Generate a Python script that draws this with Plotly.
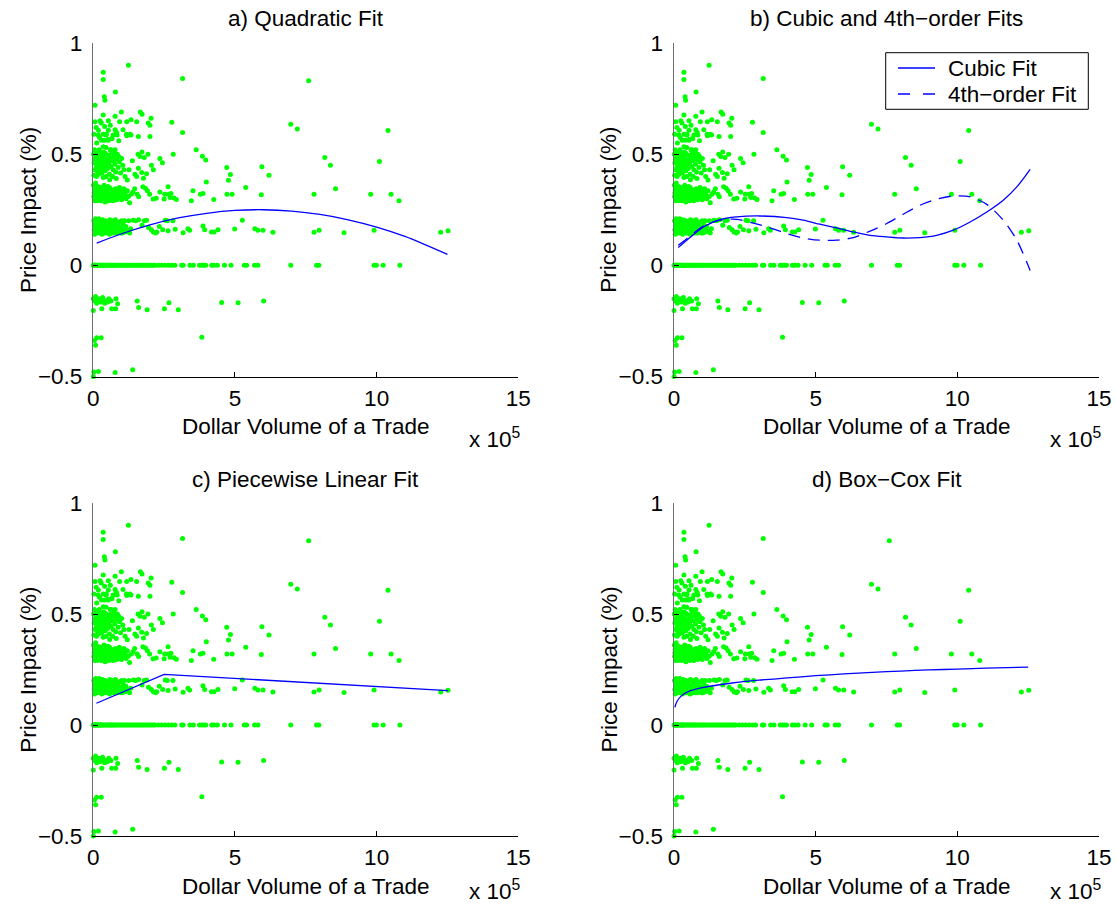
import plotly.graph_objects as go

# ---------------- data (volume in units of 1e5 dollars, impact in %) ----------------
zero_band_volume = [0.00, 0.02, 0.04, 0.06, 0.08, 0.10, 0.12, 0.15, 0.18, 0.21, 0.24, 0.27, 0.30,
                    0.33, 0.36, 0.40, 0.44, 0.48, 0.52, 0.56, 0.60, 0.64, 0.68, 0.72, 0.76, 0.80,
                    0.85, 0.90, 0.95, 1.00, 1.05, 1.10, 1.16, 1.22, 1.28, 1.34, 1.40, 1.46, 1.52,
                    1.58, 1.64, 1.70, 1.76, 1.82, 1.88, 1.94, 2.00, 2.06, 2.12, 2.18, 2.30, 2.41,
                    2.53, 2.65, 2.77, 2.88, 3.12, 3.17, 3.41, 3.53, 3.75, 3.83, 3.90, 3.97, 4.18,
                    4.26, 4.38, 4.63, 4.86, 5.33, 5.41, 5.69, 5.81, 6.97, 7.88, 7.96, 9.91, 9.99,
                    10.23, 10.82]

band_016 = [(0.02, 0.20), (0.03, 0.16), (0.05, 0.18), (0.06, 0.15), (0.08, 0.21), (0.09, 0.17),
            (0.10, 0.19), (0.12, 0.155), (0.13, 0.20), (0.15, 0.165), (0.16, 0.145), (0.18, 0.185),
            (0.20, 0.21), (0.21, 0.16), (0.23, 0.175), (0.25, 0.15), (0.27, 0.195), (0.28, 0.165),
            (0.30, 0.14), (0.32, 0.205), (0.34, 0.17), (0.36, 0.155), (0.38, 0.185), (0.40, 0.16),
            (0.42, 0.20), (0.44, 0.145), (0.46, 0.175), (0.48, 0.16), (0.50, 0.19), (0.53, 0.15),
            (0.55, 0.17), (0.58, 0.205), (0.60, 0.16), (0.63, 0.18), (0.65, 0.145), (0.68, 0.165),
            (0.70, 0.19), (0.73, 0.155), (0.76, 0.175), (0.78, 0.205), (0.80, 0.16), (0.83, 0.145),
            (0.86, 0.18), (0.88, 0.16), (0.92, 0.195), (0.95, 0.155), (0.98, 0.17), (1.02, 0.145),
            (1.05, 0.185), (1.08, 0.16), (1.12, 0.15), (1.15, 0.175), (1.20, 0.155), (1.25, 0.20),
            (1.28, 0.145), (1.32, 0.165), (0.04, 0.14), (0.11, 0.145), (0.19, 0.15), (0.26, 0.18),
            (0.35, 0.19), (0.45, 0.155), (0.57, 0.14), (0.66, 0.20), (0.74, 0.145), (0.90, 0.15),
            (1.00, 0.20), (1.10, 0.20), (0.07, 0.19), (0.14, 0.175), (0.22, 0.20), (0.31, 0.155),
            (0.39, 0.145), (0.52, 0.165), (0.62, 0.15), (0.85, 0.19), (0.97, 0.145),
            (1.41, 0.203), (1.50, 0.20), (1.60, 0.205), (1.72, 0.18), (1.80, 0.20), (1.88, 0.203),
            (1.95, 0.17), (2.05, 0.16), (2.12, 0.15), (2.20, 0.145), (2.24, 0.15), (2.33, 0.175),
            (2.45, 0.16), (2.54, 0.203), (2.61, 0.20), (2.64, 0.155), (2.81, 0.20), (2.89, 0.162),
            (3.17, 0.147), (3.34, 0.165), (3.40, 0.158), (3.87, 0.177), (3.93, 0.16), (4.17, 0.15),
            (4.26, 0.15), (4.40, 0.16), (4.99, 0.163), (5.26, 0.203), (5.70, 0.165), (5.81, 0.158),
            (5.99, 0.158), (6.34, 0.149), (7.79, 0.149), (7.97, 0.158), (8.85, 0.146),
            (9.91, 0.158), (12.26, 0.149), (12.52, 0.156)]

band_032 = [(0.01, 0.36), (0.02, 0.31), (0.04, 0.34), (0.05, 0.29), (0.07, 0.33), (0.08, 0.37),
            (0.10, 0.30), (0.11, 0.345), (0.13, 0.32), (0.15, 0.29), (0.16, 0.355), (0.18, 0.31),
            (0.20, 0.335), (0.22, 0.30), (0.24, 0.325), (0.26, 0.35), (0.28, 0.29), (0.30, 0.315),
            (0.32, 0.34), (0.34, 0.30), (0.36, 0.33), (0.38, 0.36), (0.40, 0.31), (0.42, 0.285),
            (0.44, 0.345), (0.46, 0.32), (0.48, 0.30), (0.50, 0.335), (0.53, 0.31), (0.55, 0.29),
            (0.57, 0.35), (0.60, 0.32), (0.62, 0.30), (0.65, 0.34), (0.67, 0.315), (0.70, 0.29),
            (0.72, 0.33), (0.75, 0.305), (0.78, 0.345), (0.80, 0.32), (0.83, 0.295), (0.86, 0.33),
            (0.89, 0.31), (0.92, 0.35), (0.95, 0.32), (0.98, 0.30), (1.01, 0.335), (1.05, 0.31),
            (1.08, 0.345), (1.12, 0.32), (1.16, 0.30), (1.20, 0.335), (1.24, 0.31), (1.28, 0.281),
            (1.34, 0.32), (1.40, 0.33), (0.03, 0.325), (0.09, 0.315), (0.14, 0.335), (0.19, 0.295),
            (0.27, 0.31), (0.33, 0.32), (0.41, 0.33), (0.52, 0.355), (0.58, 0.30), (0.69, 0.335),
            (0.77, 0.325), (0.88, 0.34), (1.00, 0.295), (1.10, 0.33),
            (1.46, 0.345), (1.55, 0.32), (1.60, 0.308), (1.75, 0.353), (1.84, 0.347), (1.91, 0.335),
            (1.99, 0.32), (2.11, 0.298), (2.22, 0.302), (2.35, 0.33), (2.50, 0.298), (2.52, 0.32),
            (2.64, 0.353), (2.65, 0.32), (2.71, 0.305), (2.74, 0.323), (2.85, 0.303), (2.93, 0.296),
            (3.46, 0.29), (3.52, 0.335), (3.78, 0.32), (3.87, 0.323), (3.99, 0.375), (4.25, 0.296),
            (4.72, 0.32), (4.77, 0.383), (4.90, 0.32), (5.38, 0.35), (5.93, 0.318), (7.79, 0.32),
            (8.55, 0.345), (9.79, 0.32), (10.51, 0.32), (10.79, 0.291)]

band_048 = [(0.01, 0.50), (0.03, 0.46), (0.04, 0.52), (0.06, 0.43), (0.07, 0.48), (0.09, 0.505),
            (0.10, 0.44), (0.12, 0.47), (0.14, 0.51), (0.15, 0.42), (0.17, 0.49), (0.19, 0.455),
            (0.21, 0.52), (0.22, 0.435), (0.24, 0.475), (0.26, 0.50), (0.28, 0.45), (0.30, 0.415),
            (0.32, 0.49), (0.34, 0.465), (0.36, 0.51), (0.38, 0.44), (0.40, 0.48), (0.42, 0.425),
            (0.44, 0.50), (0.46, 0.455), (0.48, 0.47), (0.50, 0.435), (0.53, 0.495), (0.55, 0.46),
            (0.57, 0.41), (0.60, 0.485), (0.62, 0.445), (0.65, 0.505), (0.67, 0.47), (0.70, 0.43),
            (0.73, 0.49), (0.76, 0.455), (0.79, 0.42), (0.82, 0.475), (0.85, 0.50), (0.88, 0.44),
            (0.92, 0.465), (0.96, 0.415), (1.00, 0.48), (1.04, 0.45), (1.08, 0.43), (0.02, 0.405),
            (0.11, 0.40), (0.18, 0.41), (0.27, 0.43), (0.35, 0.395), (0.45, 0.40), (0.58, 0.385),
            (0.68, 0.40), (0.81, 0.39), (0.05, 0.475), (0.13, 0.455), (0.23, 0.495), (0.31, 0.455),
            (0.41, 0.505), (0.52, 0.475), (0.63, 0.52), (0.74, 0.50), (0.90, 0.49),
            (1.12, 0.40), (1.20, 0.384), (1.26, 0.43), (1.38, 0.47), (1.47, 0.41), (1.53, 0.40),
            (1.58, 0.50), (1.59, 0.437), (1.65, 0.49), (1.71, 0.418), (1.72, 0.51), (1.77, 0.392),
            (1.80, 0.485), (1.88, 0.412), (1.93, 0.50), (2.05, 0.45), (2.12, 0.43), (2.35, 0.48),
            (2.44, 0.461), (2.82, 0.50), (3.63, 0.52), (3.85, 0.491), (3.97, 0.474), (4.71, 0.44),
            (4.84, 0.408), (5.95, 0.443), (6.20, 0.405), (8.17, 0.485), (8.37, 0.45), (10.10, 0.467)]

band_064 = [(0.06, 0.646), (0.24, 0.65), (0.35, 0.676), (0.53, 0.65), (0.77, 0.67), (0.93, 0.646),
            (1.18, 0.646), (1.33, 0.655), (1.53, 0.646), (1.94, 0.64), (2.00, 0.63), (0.18, 0.608),
            (0.35, 0.59), (0.45, 0.586), (0.53, 0.608), (0.77, 0.61), (0.84, 0.586), (1.18, 0.583),
            (1.33, 0.586), (1.59, 0.58), (2.00, 0.58), (0.02, 0.59), (0.22, 0.575), (0.40, 0.563),
            (0.53, 0.563), (0.65, 0.57), (0.35, 0.533), (0.45, 0.53), (0.60, 0.52), (0.77, 0.52),
            (0.17, 0.586), (0.46, 0.59), (0.70, 0.586), (0.82, 0.597), (1.17, 0.59), (1.29, 0.59),
            (0.29, 0.563), (0.52, 0.566), (0.66, 0.57), (0.10, 0.62), (0.28, 0.64), (0.60, 0.63),
            (0.12, 0.55), (0.90, 0.56), (1.05, 0.61), (0.40, 0.625),
            (0.99, 0.69), (1.66, 0.69), (1.72, 0.68), (2.04, 0.662), (2.77, 0.643), (3.15, 0.597),
            (6.97, 0.634), (7.20, 0.613), (10.40, 0.607)]

band_high = [(1.24, 0.90), (0.35, 0.868), (0.35, 0.836), (3.15, 0.84), (0.78, 0.78),
             (0.39, 0.758), (0.41, 0.743), (0.06, 0.72), (7.60, 0.83)]

band_negative = [(0.00, -0.15), (0.05, -0.16), (0.08, -0.14), (0.12, -0.17), (0.15, -0.155),
                 (0.20, -0.15), (0.25, -0.165), (0.28, -0.16), (0.33, -0.145), (0.36, -0.16),
                 (0.40, -0.17), (0.45, -0.16), (0.50, -0.165), (0.55, -0.15), (0.62, -0.16),
                 (0.80, -0.15), (0.86, -0.173), (0.00, -0.203), (0.30, -0.195), (0.65, -0.195),
                 (0.79, -0.195), (1.55, -0.16), (1.60, -0.19), (1.90, -0.20), (2.51, -0.195),
                 (2.67, -0.168), (3.00, -0.20), (4.53, -0.167), (5.11, -0.168), (6.01, -0.16),
                 (3.83, -0.323), (0.04, -0.338), (0.12, -0.326), (0.28, -0.326), (0.08, -0.359),
                 (0.02, -0.48), (0.00, -0.50), (0.18, -0.477), (0.77, -0.482), (1.39, -0.47)]

# fitted curves
quad_x = [0.12, 1, 2, 3, 4, 5, 6, 7, 8, 9, 10, 11, 12.5]
quad_y = [0.10, 0.142, 0.182, 0.213, 0.234, 0.247, 0.25, 0.244, 0.229, 0.205, 0.172, 0.13, 0.049]

cubic_x = [0.15, 0.45, 1.04, 1.62, 2.21, 3.04, 3.98, 4.56, 5.15, 5.74, 6.33, 6.92, 7.51, 8.09,
           8.68, 9.27, 9.86, 10.45, 11.04, 11.62, 12.10, 12.57]
cubic_y = [0.080, 0.113, 0.173, 0.206, 0.218, 0.222, 0.215, 0.203, 0.185, 0.168, 0.150, 0.135,
           0.128, 0.123, 0.125, 0.135, 0.158, 0.195, 0.240, 0.293, 0.353, 0.432]

quartic_x = [0.15, 0.45, 1.04, 1.62, 2.21, 2.80, 3.39, 3.98, 4.56, 5.15, 5.74, 6.33, 6.92, 7.51,
             8.09, 8.68, 9.27, 9.86, 10.45, 11.04, 11.62, 12.10, 12.57]
quartic_y = [0.09, 0.12, 0.177, 0.203, 0.207, 0.19, 0.169, 0.143, 0.123, 0.113, 0.113, 0.125,
             0.154, 0.188, 0.23, 0.27, 0.297, 0.312, 0.308, 0.274, 0.203, 0.113, -0.023]

piecewise_x = [0.11, 2.50, 12.52]
piecewise_y = [0.098, 0.228, 0.155]

boxcox_x = [0.03, 0.1, 0.25, 0.5, 1, 2, 3, 4, 5, 6, 7, 8, 9, 10, 11, 12.5]
boxcox_y = [0.08, 0.105, 0.13, 0.15, 0.168, 0.188, 0.202, 0.212, 0.222, 0.23, 0.237, 0.243,
            0.248, 0.252, 0.256, 0.261]

panel_titles = ["a) Quadratic Fit", "b) Cubic and 4th\u2212order Fits",
                "c) Piecewise Linear Fit", "d) Box\u2212Cox Fit"]
legend_labels = ["Cubic Fit", "4th\u2212order Fit"]
x_ticks = [0, 5, 10, 15]
y_ticks = [-0.5, 0, 0.5, 1]
y_tick_text = ["\u22120.5", "0", "0.5", "1"]

# ---------------- figure ----------------
W, H = 1116, 908
FONT = "Liberation Sans, Arial, Helvetica, sans-serif"
FS = 22.5
GREEN = "#00ff00"
BLUE = "#0000ff"
CURVE_DASH = "12px,8px"


def px(xp):
    return xp / W


def py(yp):
    return 1 - yp / H


all_x, all_y = [], []
all_x += zero_band_volume
all_y += [0.0] * len(zero_band_volume)
for band in (band_016, band_032, band_048, band_064, band_high, band_negative):
    all_x += [p[0] for p in band]
    all_y += [p[1] for p in band]

# panel geometry in pixels: (left, right, top, bottom, exponent-label centre y)
panels = [(93.3, 518.3, 43, 376.5, 438), (674, 1099, 43, 376.5, 438),
          (93.3, 518.3, 503, 836, 890), (674, 1099, 503, 836, 890)]

fig = go.Figure()
layout = dict(width=W, height=H, margin=dict(l=0, r=0, t=0, b=0, autoexpand=False),
              paper_bgcolor="white", plot_bgcolor="white",
              font=dict(family=FONT, size=FS, color="black"),
              showlegend=False)
annotations = []
shapes = []

for i, (l, r, t, b, ey) in enumerate(panels):
    n = "" if i == 0 else str(i + 1)
    xa, ya = "x" + n, "y" + n
    layout["xaxis" + n] = dict(domain=[px(l), px(r)], anchor=ya, range=[0, 15],
                               tickvals=x_ticks, ticks="inside", ticklen=5, tickcolor="black",
                               showline=True, linecolor="black", linewidth=1,
                               showgrid=False, zeroline=False, ticklabelstandoff=1,
                               automargin=False,
                               tickfont=dict(size=FS, family=FONT, color="black"))
    layout["yaxis" + n] = dict(domain=[py(b), py(t)], anchor=xa, range=[-0.5, 1],
                               tickvals=y_ticks, ticktext=y_tick_text, ticks="inside", ticklen=5,
                               tickcolor="black", showline=True, linecolor="#6e6e6e",
                               linewidth=1.5, showgrid=False, zeroline=False,
                               ticklabelstandoff=5, automargin=False,
                               tickfont=dict(size=FS, family=FONT, color="black"))
    fig.add_trace(go.Scatter(x=all_x, y=all_y, mode="markers", xaxis=xa, yaxis=ya,
                             marker=dict(color=GREEN, size=5, line=dict(width=0)),
                             cliponaxis=False, showlegend=False, hoverinfo="skip"))
    cx = (l + r) / 2
    annotations.append(dict(text=panel_titles[i], x=px(cx), y=py(t - 24),
                            xref="paper", yref="paper", showarrow=False,
                            xanchor="center", yanchor="middle", font=dict(size=FS)))
    annotations.append(dict(text="Dollar Volume of a Trade", x=px(cx), y=py(b + 50),
                            xref="paper", yref="paper", showarrow=False,
                            xanchor="center", yanchor="middle", font=dict(size=FS)))
    annotations.append(dict(text="Price Impact (%)", x=px(l - 65), y=py((t + b) / 2),
                            xref="paper", yref="paper", showarrow=False, textangle=-90,
                            xanchor="center", yanchor="middle", font=dict(size=FS)))
    annotations.append(dict(text="x 10<sup>5</sup>", x=px(r - 51), y=py(ey),
                            xref="paper", yref="paper", showarrow=False,
                            xanchor="left", yanchor="middle", font=dict(size=FS)))

line_style = dict(color=BLUE, width=1.3)
fig.add_trace(go.Scatter(x=quad_x, y=quad_y, mode="lines", xaxis="x", yaxis="y",
                         line=dict(shape="spline", smoothing=0.8, **line_style),
                         showlegend=False, hoverinfo="skip"))
fig.add_trace(go.Scatter(x=cubic_x, y=cubic_y, mode="lines", xaxis="x2", yaxis="y2",
                         name=legend_labels[0], hoverinfo="skip",
                         line=dict(shape="spline", smoothing=0.8, **line_style)))
fig.add_trace(go.Scatter(x=quartic_x, y=quartic_y, mode="lines", xaxis="x2", yaxis="y2",
                         name=legend_labels[1], hoverinfo="skip",
                         line=dict(shape="spline", smoothing=0.8, dash=CURVE_DASH, **line_style)))
fig.add_trace(go.Scatter(x=piecewise_x, y=piecewise_y, mode="lines", xaxis="x3", yaxis="y3",
                         line=line_style, showlegend=False, hoverinfo="skip"))
fig.add_trace(go.Scatter(x=boxcox_x, y=boxcox_y, mode="lines", xaxis="x4", yaxis="y4",
                         line=dict(shape="spline", smoothing=0.8, **line_style),
                         showlegend=False, hoverinfo="skip"))

# legend box drawn by hand (MATLAB style)
lg_l, lg_r, lg_t, lg_b = 885.7, 1088.3, 52.7, 109.3
shapes.append(dict(type="rect", xref="paper", yref="paper", x0=px(lg_l), x1=px(lg_r),
                   y0=py(lg_b), y1=py(lg_t), line=dict(color="black", width=1),
                   fillcolor="white", layer="above"))
for k, (label, dash) in enumerate(zip(legend_labels, ["solid", "12px,13px"])):
    yy = 68 + 26 * k
    shapes.append(dict(type="line", xref="paper", yref="paper", x0=px(898), x1=px(935),
                       y0=py(yy), y1=py(yy), line=dict(color=BLUE, width=1.3, dash=dash),
                       layer="above"))
    annotations.append(dict(text=label, x=px(946), y=py(yy), xref="paper", yref="paper",
                            showarrow=False, xanchor="left", yanchor="middle",
                            font=dict(size=FS)))

layout["annotations"] = annotations
layout["shapes"] = shapes
fig.update_layout(**layout)
fig.write_html("out.html",
               config={"displayModeBar": False, "staticPlot": True},
               post_script="document.body.style.margin='0px';"
                           "document.body.style.overflow='hidden';")
